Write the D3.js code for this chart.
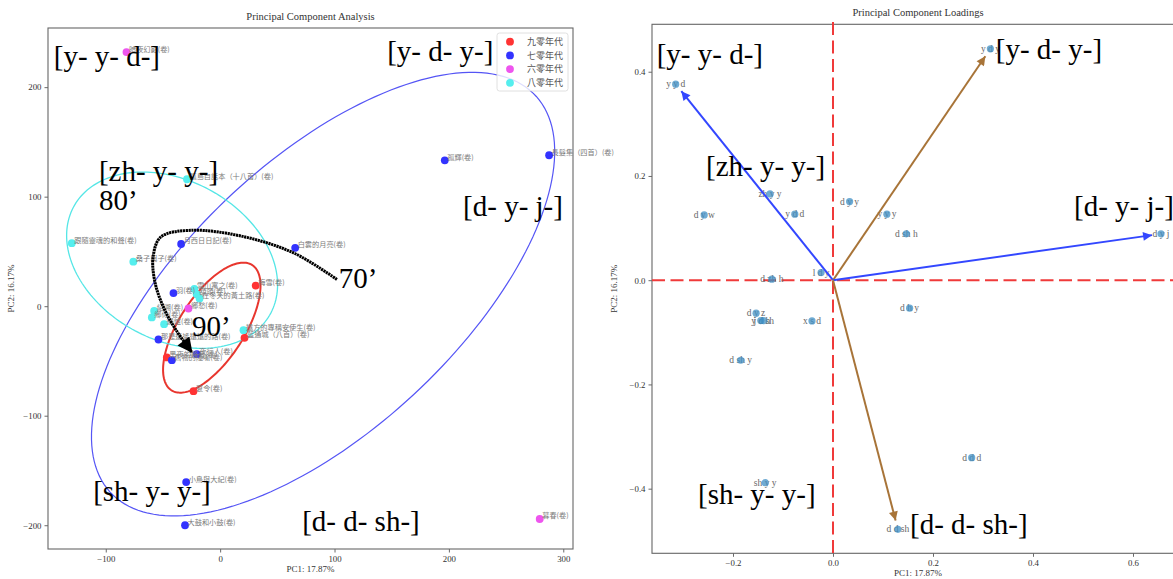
<!DOCTYPE html>
<html><head><meta charset="utf-8">
<script src="https://cdn.jsdelivr.net/npm/d3@7"></script>
<style>body{margin:0;background:#fff}svg{display:block}</style>
</head><body>
<svg id="c" width="1173" height="579"></svg>
<script>
// ---------- data ----------
const decades = ["九零年代", "七零年代", "六零年代", "八零年代"];
const workTitles = ["暗夜幻影(卷)", "孤輝(卷)", "長髮集（四首）(卷)", "孤島自話本（十八首）(卷)", "跟隨靈魂的和聲(卷)",
  "月西日日記(卷)", "白雲的月亮(卷)", "桑子與子(卷)", "梅雪(卷)", "羽(卷)", "雪山寓之(卷)", "額頭(卷)",
  "在冬天的黃土路(卷)", "鄉愁(卷)", "紹溯(卷)", "鄉你(卷)", "鍋爐(卷)", "遠方的專稱安使生(卷)", "藍通城（八首）(卷)",
  "那是遙遙遠遠的路(卷)", "夜行人(卷)", "黑夜的聲音(卷)", "舊物的隱喻(卷)", "夏令(卷)", "小鳥與大紀(卷)", "大鼓和小鼓(卷)", "暮春(卷)"];
const workDecade = ["六零年代", "七零年代", "七零年代", "八零年代", "八零年代",
  "七零年代", "七零年代", "八零年代", "九零年代", "七零年代", "八零年代", "八零年代",
  "八零年代", "六零年代", "八零年代", "八零年代", "八零年代", "八零年代", "九零年代",
  "七零年代", "七零年代", "九零年代", "七零年代", "九零年代", "七零年代", "七零年代", "六零年代"];
const workPC1 = [-81.9, 196.4, 287.6, -29, -129.7, -34.1, 65.6, -75.9, 31.1, -40.8, -22.5, -20.5,
  -18, -27.7, -57.7, -59.7, -49, 20.4, 21.3, -53.9, -20.4, -46.6, -42.2, -23.3, -29.7, -30.7, 279.4];
const workPC2 = [232, 133.2, 137.8, 115.9, 57.5, 56.8, 53.3, 40.6, 18.8, 12, 15.8, 11,
  7, -2.1, -4.3, -10.3, -16.4, -21.9, -28.9, -30.4, -43.8, -46.8, -49.3, -77.6, -160.6, -200, -194.3];

// confidence ellipses (data units)
const ellipseDecade = ["九零年代", "七零年代", "八零年代"];
const ellipseCenterPC1 = [-7.3, 90, -42];
const ellipseCenterPC2 = [-19.6, 11, 42];
const ellipseSemiMajor = [67.2, 259.6, 99];
const ellipseSemiMinor = [28.7, 120.9, 72];
const ellipseAngle = [58.8, 45, -32];

// hand-drawn trend annotation (data units)
const trendPC1 = [102.1, 65.3, 21.9, -25, -51.8, -58.6, -56.8, -48.4, -38.5, -25];
const trendPC2 = [24.4, 48.1, 63.2, 69.3, 63.2, 45, 21, -3.6, -21.9, -41.7];

const pcaNotes = ["[y- y- d-]", "[y- d- y-]", "[zh- y- y-]", "80’", "[d- y- j-]", "70’", "90’", "[sh- y- y-]", "[d- d- sh-]"];
const pcaNotePC1 = [-145.5, 146, -106, -106, 212.4, 103.8, -24.7, -111, 71.7];
const pcaNotePC2 = [219, 224, 114, 87.6, 82.1, 16.4, -27.4, -178, -205.3];

const loadingLabels = ["y y d", "y d y", "zh y y", "d y w", "y d d", "d y y", "y y y", "d sh h", "d y j", "l d y",
  "d zh h", "d y z", "y d h", "j d sh", "x s d", "d h y", "d sh y", "d d d", "sh y y", "d d sh"];
const loadingPC1 = [-0.3146, 0.3148, -0.126, -0.2576, -0.0764, 0.0332, 0.1078, 0.1466, 0.656, -0.0238,
  -0.1224, -0.1538, -0.1444, -0.1386, -0.042, 0.1532, -0.1846, 0.2774, -0.1356, 0.1298];
const loadingPC2 = [0.3762, 0.444, 0.1656, 0.1253, 0.1267, 0.1509, 0.1267, 0.0889, 0.0889, 0.0146,
  0.0019, -0.0633, -0.0775, -0.0775, -0.0781, -0.0537, -0.1536, -0.3405, -0.3885, -0.478];
const arrowLoadings = ["y y d", "y d y", "d y j", "d d sh"];
const arrowKind = ["blue", "brown", "blue", "brown"];

const loadNotes = ["[y- y- d-]", "[y- d- y-]", "[zh- y- y-]", "[d- y- j-]", "[sh- y- y-]", "[d- d- sh-]"];
const loadNotePC1 = [-0.3526, 0.3256, -0.254, 0.482, -0.27, 0.154];
const loadNotePC2 = [0.4142, 0.4248, 0.2002, 0.1234, -0.4294, -0.487];

const pcaXTicks = [-100, 0, 100, 200, 300];
const pcaYTicks = [-200, -100, 0, 100, 200];
const loadXTicks = [-0.2, 0, 0.2, 0.4, 0.6];
const loadYTicks = [-0.4, -0.2, 0, 0.2, 0.4];

// ---------- styles ----------
const SERIF = "'Liberation Serif','Times New Roman',serif";
const CJK = "'Noto Sans CJK TC','Noto Sans CJK SC',sans-serif";
const decadeColor = {"九零年代": "#ff3333", "七零年代": "#3333ff", "六零年代": "#ee55ee", "八零年代": "#55eeee"};
const ellipseColor = {"九零年代": "#e8362e", "七零年代": "#5555f5", "八零年代": "#55e6e6"};
const ellipseWidth = {"九零年代": 2, "七零年代": 1.2, "八零年代": 1.3};
const arrowColor = {blue: "#3347ff", brown: "#a87438"};

const svg = d3.select("#c");
const defs = svg.append("defs");

function frameAndAxes(x, y, xt, yt, fmt, title, xl, yl, ylx) {
  const [x0, x1] = x.range(), [y1, y0] = y.range();
  const g = svg.append("g");
  const ax = g.append("g").attr("transform", `translate(0,${y1})`)
    .call(d3.axisBottom(x).tickValues(xt).tickFormat(fmt).tickSize(3.5).tickPadding(3));
  const ay = g.append("g").attr("transform", `translate(${x0},0)`)
    .call(d3.axisLeft(y).tickValues(yt).tickFormat(fmt).tickSize(3.5).tickPadding(3));
  [ax, ay].forEach(a => {
    a.select(".domain").remove();
    a.selectAll("line").attr("stroke", "#444").attr("stroke-width", 0.8);
    a.selectAll("text").attr("font-family", SERIF).attr("font-size", 8.8).attr("fill", "#333");
  });
  g.append("rect").attr("x", x0).attr("y", y0).attr("width", x1 - x0).attr("height", y1 - y0)
    .attr("fill", "none").attr("stroke", "#666").attr("stroke-width", 1.1);
  g.append("text").attr("x", (x0 + x1) / 2).attr("y", y0 - 8).attr("text-anchor", "middle")
    .attr("font-family", SERIF).attr("font-size", 10.5).attr("fill", "#333").text(title);
  g.append("text").attr("x", (x0 + x1) / 2).attr("y", Math.min(y1 + 23, 575.5)).attr("text-anchor", "middle")
    .attr("font-family", SERIF).attr("font-size", 9).attr("fill", "#333").text(xl);
  g.append("text").attr("transform", `translate(${ylx},${(y0 + y1) / 2}) rotate(-90)`).attr("text-anchor", "middle")
    .attr("font-family", SERIF).attr("font-size", 9).attr("fill", "#333").text(yl);
}

// ================= LEFT: PCA scatter =================
const xL = d3.scaleLinear().domain([-150.5, 308.5]).range([48, 573]);
const yL = d3.scaleLinear().domain([-221.7, 254]).range([549, 28]);
frameAndAxes(xL, yL, pcaXTicks, pcaYTicks, d3.format("d"), "Principal Component Analysis", "PC1: 17.87%", "PC2: 16.17%", 14);

const works = workTitles.map((t, i) => ({t, d: workDecade[i], x: workPC1[i], y: workPC2[i]}));

// ellipses
ellipseDecade.forEach((d, i) => {
  const r = ellipseAngle[i] * Math.PI / 180, a = ellipseSemiMajor[i], b = ellipseSemiMinor[i];
  const pts = d3.range(0, 361, 2).map(t => {
    const tt = t * Math.PI / 180, ex = a * Math.cos(tt), ey = b * Math.sin(tt);
    return [xL(ellipseCenterPC1[i] + ex * Math.cos(r) - ey * Math.sin(r)),
            yL(ellipseCenterPC2[i] + ex * Math.sin(r) + ey * Math.cos(r))];
  });
  svg.append("path").attr("d", d3.line()(pts)).attr("fill", "none")
    .attr("stroke", ellipseColor[d]).attr("stroke-width", ellipseWidth[d]);
});

// points
svg.append("g").selectAll("circle").data(works).join("circle")
  .attr("cx", d => xL(d.x)).attr("cy", d => yL(d.y)).attr("r", 3.9)
  .attr("fill", d => decadeColor[d.d]);
// labels
svg.append("g").selectAll("text").data(works).join("text")
  .attr("x", d => xL(d.x) + 2.5).attr("y", d => yL(d.y) - 0.5)
  .attr("font-family", CJK).attr("font-size", 7.2).attr("fill", "#7a7a7a")
  .text(d => d.t);

// trend arrow
defs.append("marker").attr("id", "headK").attr("viewBox", "0 0 10 10").attr("refX", 9).attr("refY", 5)
  .attr("markerUnits", "userSpaceOnUse").attr("markerWidth", 17).attr("markerHeight", 15).attr("orient", "auto")
  .append("path").attr("d", "M0,0 L10,5 L0,10 z").attr("fill", "#000");
svg.append("path")
  .attr("d", d3.line().curve(d3.curveCatmullRom)(trendPC1.map((v, i) => [xL(v), yL(trendPC2[i])])))
  .attr("fill", "none").attr("stroke", "#000").attr("stroke-width", 3).attr("stroke-dasharray", "2.2,0.6")
  .attr("marker-end", "url(#headK)");

// legend
const lg = svg.append("g");
lg.append("rect").attr("x", 497).attr("y", 33).attr("width", 71).attr("height", 58).attr("rx", 2.5)
  .attr("fill", "#fff").attr("fill-opacity", 0.8).attr("stroke", "#d8d8d8").attr("stroke-width", 0.8);
decades.forEach((d, i) => {
  lg.append("circle").attr("cx", 510).attr("cy", 41.7 + i * 13.7).attr("r", 3.9).attr("fill", decadeColor[d]);
  lg.append("text").attr("x", 527).attr("y", 41.7 + i * 13.7).attr("dy", "0.36em")
    .attr("font-family", CJK).attr("font-size", 9).attr("fill", "#555").text(d);
});

// big notes
pcaNotes.forEach((t, i) => {
  svg.append("text").attr("x", xL(pcaNotePC1[i])).attr("y", yL(pcaNotePC2[i]))
    .attr("font-family", SERIF).attr("font-size", 29).attr("fill", "#000").text(t);
});

// ================= RIGHT: loadings =================
const xR = d3.scaleLinear().domain([-0.362, 0.702]).range([652, 1184]);
const yR = d3.scaleLinear().domain([-0.524, 0.491]).range([553.3, 24.3]);
frameAndAxes(xR, yR, loadXTicks, loadYTicks, d3.format(".1f"), "Principal Component Loadings", "PC1: 17.87%", "PC2: 16.17%", 617);

// red dashed reference lines
svg.append("line").attr("x1", xR(0)).attr("x2", xR(0)).attr("y1", 22).attr("y2", 555)
  .attr("stroke", "#f03a3a").attr("stroke-width", 2).attr("stroke-dasharray", "13,5.5");
svg.append("line").attr("x1", 652).attr("x2", 1184).attr("y1", yR(0)).attr("y2", yR(0))
  .attr("stroke", "#f03a3a").attr("stroke-width", 2).attr("stroke-dasharray", "13,5.5");

const loads = loadingLabels.map((l, i) => ({l, x: loadingPC1[i], y: loadingPC2[i]}));
svg.append("g").selectAll("text").data(loads).join("text")
  .attr("x", d => xR(d.x)).attr("y", d => yR(d.y)).attr("dy", "0.33em").attr("text-anchor", "middle")
  .attr("font-family", SERIF).attr("font-size", 9.5).attr("fill", "#666").text(d => d.l);
svg.append("g").selectAll("circle").data(loads).join("circle")
  .attr("cx", d => xR(d.x)).attr("cy", d => yR(d.y)).attr("r", 3.6)
  .attr("fill", "#3f8fc4").attr("fill-opacity", 0.75);

// arrows
["blue", "brown"].forEach(k => {
  defs.append("marker").attr("id", "head-" + k).attr("viewBox", "0 0 10 10").attr("refX", 10).attr("refY", 5)
    .attr("markerUnits", "userSpaceOnUse").attr("markerWidth", 11).attr("markerHeight", 9).attr("orient", "auto")
    .append("path").attr("d", "M0,0 L10,5 L0,10 z").attr("fill", arrowColor[k]);
});
arrowLoadings.forEach((l, i) => {
  const d = loads.find(p => p.l === l);
  const sx = xR(0), sy = yR(0), tx = xR(d.x), ty = yR(d.y);
  const len = Math.hypot(tx - sx, ty - sy), sh = 9;
  svg.append("line").attr("x1", sx).attr("y1", sy)
    .attr("x2", tx - (tx - sx) / len * sh).attr("y2", ty - (ty - sy) / len * sh)
    .attr("stroke", arrowColor[arrowKind[i]]).attr("stroke-width", 2)
    .attr("marker-end", `url(#head-${arrowKind[i]})`);
});

loadNotes.forEach((t, i) => {
  svg.append("text").attr("x", xR(loadNotePC1[i])).attr("y", yR(loadNotePC2[i]))
    .attr("font-family", SERIF).attr("font-size", 29).attr("fill", "#000").text(t);
});
</script>
</body></html>
